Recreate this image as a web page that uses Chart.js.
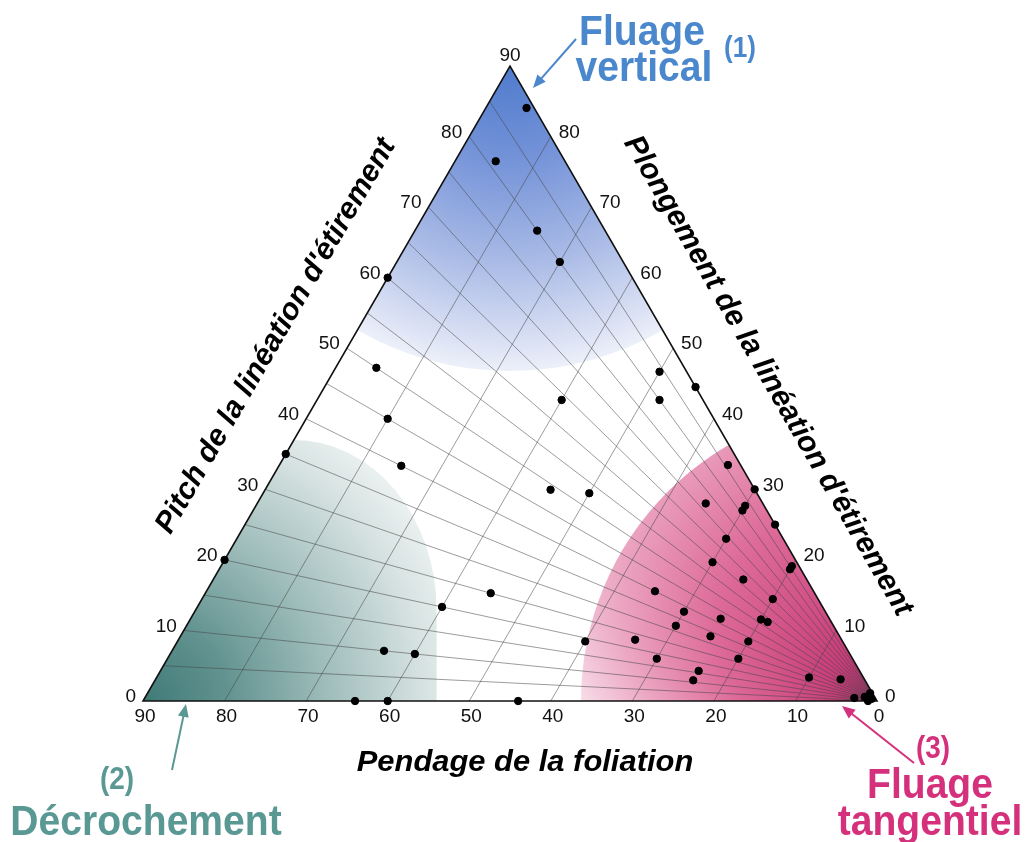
<!DOCTYPE html>
<html>
<head>
<meta charset="utf-8">
<script src="https://cdn.jsdelivr.net/npm/chart.js@4.4.0/dist/chart.umd.min.js"></script>
<style>
  html, body { margin: 0; padding: 0; background: #fff; }
  canvas { display: block; }
</style>
</head>
<body>
<canvas id="tri" width="1027" height="842"></canvas>
<script>
/* pendage / pitch / plongement : diagramme triangulaire */

// mesures : pendage de la foliation et pitch de la linéation (degrés)
const pendages = [85, 85, 75, 70, 90, 85, 80, 75, 90, 90, 60, 50, 48, 44.5, 35, 55, 50, 35, 30, 30,
  30, 25, 30, 30, 20, 20, 25, 20, 35, 30, 25, 20, 19, 30, 34, 25, 40, 20, 30, 20,
  24, 24, 10, 6, 55, 60, 64, 60, 64, 60, 44, 3, 1.8, 1.4, 1.1, 0.8];
const pitchs = [89, 81, 80, 80, 60, 50, 45, 40, 35, 20, 64, 84, 80, 90, 86, 49, 53, 72, 90, 83,
  81, 90, 69, 59, 86, 84, 62, 65, 40, 38, 42, 52, 53, 32, 23, 33, 19, 38, 18, 27,
  16, 11, 30, 46, 25, 20, 10, 10, 0, 0, 0, 13, 29, 72, 0, 34];

// graduations
const ticksBas = [90, 80, 70, 60, 50, 40, 30, 20, 10, 0];
const ticksCotes = [0, 10, 20, 30, 40, 50, 60, 70, 80];
const grillePendage = [10, 20, 30, 40, 50, 60, 70, 80];
const grillePitch = [5, 10, 15, 20, 25, 30, 35, 40, 45, 50, 55, 60, 65, 70, 75, 80, 85];

const H = 45 * Math.sqrt(3);

// (pendage, pitch) -> coordonnees du triangle
function toXY(d, p) {
  return { x: d * (1 - p / 180), y: d / 90 * H * p / 90 };
}

const points = pendages.map((d, i) => toXY(d, pitchs[i]));

const FONT = '"Liberation Sans", Arial, Helvetica, sans-serif';

function fleche(ctx, x1, y1, x2, y2, color) {
  const a = Math.atan2(y2 - y1, x2 - x1);
  const L = 13, W = 5.5;
  ctx.save();
  ctx.strokeStyle = color;
  ctx.fillStyle = color;
  ctx.lineWidth = 2;
  ctx.beginPath();
  ctx.moveTo(x1, y1);
  ctx.lineTo(x2 - L * 0.8 * Math.cos(a), y2 - L * 0.8 * Math.sin(a));
  ctx.stroke();
  ctx.beginPath();
  ctx.moveTo(x2, y2);
  ctx.lineTo(x2 - L * Math.cos(a) + W * Math.sin(a), y2 - L * Math.sin(a) - W * Math.cos(a));
  ctx.lineTo(x2 - L * Math.cos(a) - W * Math.sin(a), y2 - L * Math.sin(a) + W * Math.cos(a));
  ctx.closePath();
  ctx.fill();
  ctx.restore();
}

// texte un peu condense (police etroite absente)
function texteEtroit(ctx, txt, x, y, k) {
  ctx.save();
  ctx.translate(x, y);
  ctx.scale(k, 1);
  ctx.fillText(txt, 0, 0);
  ctx.restore();
}

const trianglePlugin = {
  id: 'triangle',
  beforeDraw(chart) {
    const ctx = chart.ctx;
    ctx.save();
    ctx.fillStyle = '#fff';
    ctx.fillRect(0, 0, chart.width, chart.height);
    ctx.restore();
  },
  beforeDatasetsDraw(chart) {
    const ctx = chart.ctx;
    const xs = chart.scales.x, ys = chart.scales.y;
    const pix = (d, p) => { const q = toXY(d, p); return [xs.getPixelForValue(q.x), ys.getPixelForValue(q.y)]; };
    const BL = pix(90, 0), BR = pix(0, 0), TOP = pix(90, 90);

    ctx.save();
    ctx.beginPath();
    ctx.moveTo(BL[0], BL[1]); ctx.lineTo(BR[0], BR[1]); ctx.lineTo(TOP[0], TOP[1]); ctx.closePath();
    ctx.clip();

    // zone bleue : fluage vertical
    let g = ctx.createRadialGradient(TOP[0], TOP[1], 0, TOP[0], TOP[1], 305);
    g.addColorStop(0, '#4f7bcc');
    g.addColorStop(0.3, '#7392d8');
    g.addColorStop(0.65, '#aabbe6');
    g.addColorStop(0.92, '#dde3f5');
    g.addColorStop(1, '#ecf0f9');
    ctx.fillStyle = g;
    ctx.beginPath();
    ctx.arc(TOP[0], TOP[1], 305, 0, Math.PI * 2);
    ctx.fill();

    // zone verte : decrochement
    const topY = pix(90, 37)[1];
    const cx = pix(90, 37)[0];
    const rightX = pix(54, 0)[0];
    g = ctx.createRadialGradient(BL[0], BL[1], 0, BL[0], BL[1], 330);
    g.addColorStop(0, '#3f7a77');
    g.addColorStop(0.25, '#61928f');
    g.addColorStop(0.55, '#9dbcba');
    g.addColorStop(0.85, '#d6e2e1');
    g.addColorStop(1, '#ebf1f1');
    ctx.fillStyle = g;
    ctx.beginPath();
    ctx.moveTo(BL[0], BL[1]);
    ctx.lineTo(BL[0], topY);
    ctx.lineTo(cx, topY);
    ctx.ellipse(cx, topY + 170, rightX - cx, 170, 0, -Math.PI / 2, 0);
    ctx.lineTo(rightX, BL[1]);
    ctx.closePath();
    ctx.fill();

    // zone rose : fluage tangentiel
    g = ctx.createRadialGradient(BR[0], BR[1], 0, BR[0] - 100, BR[1] - 170, 300);
    g.addColorStop(0, '#a9316a');
    g.addColorStop(0.12, '#c93f7b');
    g.addColorStop(0.4, '#dd6a98');
    g.addColorStop(0.62, '#ea9fbd');
    g.addColorStop(0.85, '#f7dde8');
    g.addColorStop(1, '#ffffff');
    ctx.fillStyle = g;
    ctx.beginPath();
    ctx.arc(BR[0], BR[1], 296, 0, Math.PI * 2);
    ctx.fill();

    // grille
    ctx.strokeStyle = 'rgba(70,70,70,0.6)';
    ctx.lineWidth = 0.9;
    grillePendage.forEach(d => {
      const a = pix(d, 0), b = pix(d, 90);
      ctx.beginPath(); ctx.moveTo(a[0], a[1]); ctx.lineTo(b[0], b[1]); ctx.stroke();
    });
    grillePitch.forEach(p => {
      const a = pix(90, p);
      ctx.beginPath(); ctx.moveTo(BR[0], BR[1]); ctx.lineTo(a[0], a[1]); ctx.stroke();
    });
    ctx.restore();

    // contour
    ctx.save();
    ctx.strokeStyle = '#111';
    ctx.lineWidth = 1.6;
    ctx.beginPath();
    ctx.moveTo(BL[0], BL[1]); ctx.lineTo(BR[0], BR[1]); ctx.lineTo(TOP[0], TOP[1]); ctx.closePath();
    ctx.stroke();
    ctx.restore();
  },
  afterDraw(chart) {
    const ctx = chart.ctx;
    const xs = chart.scales.x, ys = chart.scales.y;
    const pix = (d, p) => { const q = toXY(d, p); return [xs.getPixelForValue(q.x), ys.getPixelForValue(q.y)]; };

    ctx.save();
    ctx.fillStyle = '#111';
    ctx.font = '19px ' + FONT;
    // pendage (base)
    ctx.textAlign = 'center';
    ctx.textBaseline = 'top';
    ticksBas.forEach(d => {
      const a = pix(d, 0);
      ctx.fillText(String(d), a[0] + 2, a[1] + 6);
    });
    // pitch (cote gauche)
    ctx.textAlign = 'right';
    ctx.textBaseline = 'middle';
    ticksCotes.forEach(p => {
      const a = pix(90, p);
      ctx.fillText(String(p), a[0] - 7, a[1] - 4);
    });
    // plongement (cote droit)
    ctx.textAlign = 'left';
    ticksCotes.forEach(v => {
      const a = pix(v, 90);
      ctx.fillText(String(v), a[0] + 8, a[1] - 4);
    });
    const top = pix(90, 90);
    ctx.textAlign = 'center';
    ctx.textBaseline = 'bottom';
    ctx.fillText('90', top[0], top[1] - 1);

    // titres des axes
    ctx.fillStyle = '#000';
    ctx.font = 'italic bold 30px ' + FONT;
    ctx.textAlign = 'center';
    ctx.textBaseline = 'middle';
    texteEtroit(ctx, 'Pendage de la foliation', 525, 763, 1.03);

    ctx.save();
    ctx.translate(276, 336);
    ctx.rotate(-Math.PI / 3);
    ctx.fillText('Pitch de la linéation d\'étirement', 0, 0);
    ctx.restore();

    ctx.save();
    ctx.translate(768, 376);
    ctx.rotate(Math.PI / 3);
    ctx.fillText('Plongement de la linéation d\'étirement', 0, 0);
    ctx.restore();

    // annotations
    const bleu = '#4a87cc', vert = '#5a9894', rose = '#d5307c';
    ctx.textBaseline = 'alphabetic';
    ctx.fillStyle = bleu;
    ctx.font = 'bold 42px ' + FONT;
    texteEtroit(ctx, 'Fluage', 642, 45, 0.93);
    texteEtroit(ctx, 'vertical', 644, 81, 0.93);
    ctx.font = 'bold 29px ' + FONT;
    texteEtroit(ctx, '(1)', 740, 57, 0.9);
    fleche(ctx, 576, 39, 533, 88, bleu);

    ctx.fillStyle = vert;
    ctx.font = 'bold 31px ' + FONT;
    texteEtroit(ctx, '(2)', 117, 789, 0.9);
    ctx.font = 'bold 42px ' + FONT;
    texteEtroit(ctx, 'Décrochement', 146, 835, 0.93);
    fleche(ctx, 172, 770, 186, 704, vert);

    ctx.fillStyle = rose;
    ctx.font = 'bold 31px ' + FONT;
    texteEtroit(ctx, '(3)', 933, 758, 0.9);
    ctx.font = 'bold 42px ' + FONT;
    texteEtroit(ctx, 'Fluage', 930, 798, 0.93);
    texteEtroit(ctx, 'tangentiel', 930, 835, 0.93);
    fleche(ctx, 914, 763, 842, 706, rose);
    ctx.restore();
  }
};

new Chart(document.getElementById('tri'), {
  type: 'scatter',
  data: {
    datasets: [{
      label: 'mesures',
      data: points,
      backgroundColor: '#000',
      borderColor: '#000',
      pointRadius: 3.7,
      pointHoverRadius: 3.7,
      clip: false
    }]
  },
  options: {
    responsive: false,
    animation: false,
    devicePixelRatio: 1,
    layout: { padding: { left: 143, right: 150, top: 66, bottom: 141 } },
    scales: {
      x: { type: 'linear', min: 0, max: 90, reverse: true, display: false },
      y: { type: 'linear', min: 0, max: H, display: false }
    },
    plugins: {
      legend: { display: false },
      tooltip: { enabled: false }
    }
  },
  plugins: [trianglePlugin]
});
</script>
</body>
</html>
